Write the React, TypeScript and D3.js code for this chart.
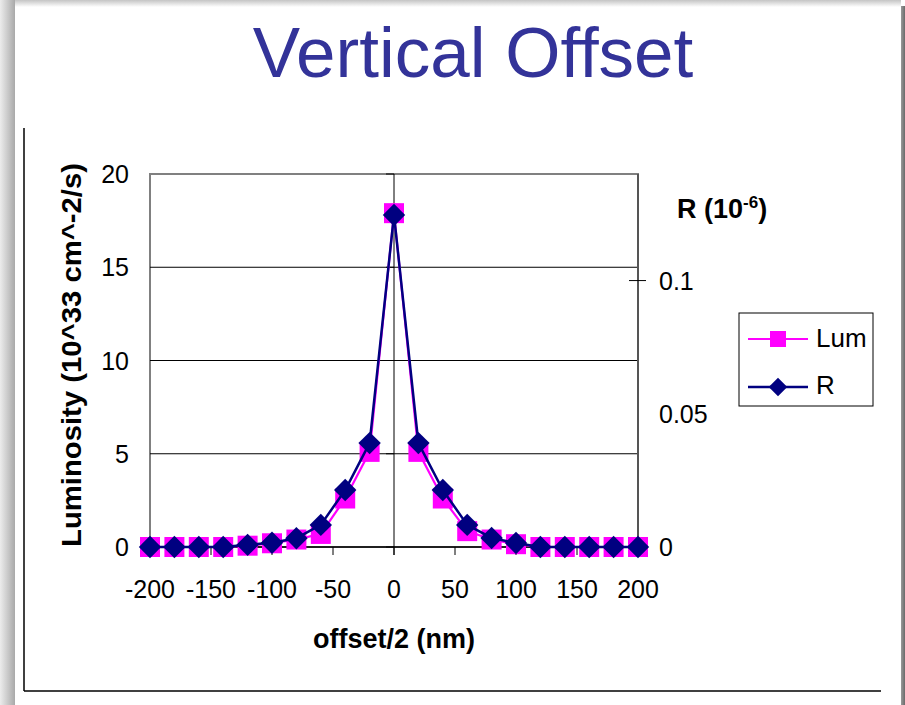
import React from 'react';
import * as d3 from 'd3';

const offsets = [-200, -180, -160, -140, -120, -100, -80, -60, -40, -20, 0, 20, 40, 60, 80, 100, 120, 140, 160, 180, 200];
const lum = [0, 0, 0, 0, 0.07, 0.2, 0.4, 0.7, 2.6, 5.1, 17.9, 5.1, 2.6, 0.85, 0.4, 0.15, 0, 0, 0, 0, 0];
const rVals = [0, 0, 0, 0, 0.0008, 0.0016, 0.0033, 0.0083, 0.0214, 0.039, 0.1246, 0.039, 0.0214, 0.0083, 0.0034, 0.0015, 0, 0, 0, 0, 0];
const xTicks = [-200, -150, -100, -50, 0, 50, 100, 150, 200];
const leftTicks = [0, 5, 10, 15, 20];
const gridTicks = [5, 10, 15];
const rightTicks = [0, 0.05, 0.1];

const W = 905;
const H = 705;
const font = 'Liberation Sans, Arial, sans-serif';
const PINK = '#ff00ff';
const NAVY = '#000080';

const App = () => {
  const x = d3.scaleLinear().domain([-200, 200]).range([150, 638]);
  const yL = d3.scaleLinear().domain([0, 20]).range([547, 174]);
  const yR = d3.scaleLinear().domain([0, 0.14]).range([547, 174]);

  const lumLine = d3.line<number>()
    .x((_, i) => x(offsets[i]))
    .y(d => yL(d));
  const rLine = d3.line<number>()
    .x((_, i) => x(offsets[i]))
    .y(d => yR(d));

  const square = d3.symbol().type(d3.symbolSquare).size(400)()!;
  const diamond = d3.symbol().type(d3.symbolDiamond2).size(320)()!;
  const legSquare = d3.symbol().type(d3.symbolSquare).size(256)()!;
  const legDiamond = d3.symbol().type(d3.symbolDiamond2).size(220)()!;

  return (
    <svg width={W} height={H} style={{ position: 'absolute', left: 0, top: 0 }} fontFamily={font}>
      <defs>
        <linearGradient id="shL" x1="0" x2="1" y1="0" y2="0">
          <stop offset="0" stopColor="#ececec" />
          <stop offset="1" stopColor="#a9a9a9" />
        </linearGradient>
        <linearGradient id="shT" x1="0" x2="0" y1="0" y2="1">
          <stop offset="0" stopColor="#c4c4c4" />
          <stop offset="1" stopColor="#ffffff" />
        </linearGradient>
        <linearGradient id="shR" x1="0" x2="1" y1="0" y2="0">
          <stop offset="0" stopColor="#9a9a9a" />
          <stop offset="1" stopColor="#6a6a6a" />
        </linearGradient>
      </defs>
      <rect x={0} y={0} width={W} height={H} fill="#fff" />
      <rect x={0} y={0} width={15} height={H} fill="url(#shL)" />
      <rect x={15} y={0} width={886} height={7} fill="url(#shT)" />
      <rect x={901} y={6} width={4} height={H} fill="url(#shR)" />

      {/* chart frame, left and bottom sides */}
      <line x1={24} x2={24} y1={128} y2={691} stroke="#000" strokeWidth={1.5} />
      <line x1={24} x2={881} y1={691} y2={691} stroke="#000" strokeWidth={1.5} />

      <text x={473} y={77} textAnchor="middle" fontSize={71} fill="#333399">Vertical Offset</text>

      {/* plot area */}
      <rect x={150} y={174} width={488} height={373} fill="#fff" stroke="#808080" strokeWidth={2} />
      {gridTicks.map(t => (
        <line key={t} x1={150} x2={637} y1={yL(t)} y2={yL(t)} stroke="#000" strokeWidth={1} />
      ))}

      {/* primary y axis crossing at x = 0 */}
      <line x1={x(0)} x2={x(0)} y1={174} y2={555} stroke="#000" strokeWidth={1} />
      {leftTicks.map(t => (
        <line key={t} x1={x(0) - 8} x2={x(0)} y1={yL(t)} y2={yL(t)} stroke="#000" strokeWidth={1} />
      ))}
      {leftTicks.map(t => (
        <text key={t} x={129} y={yL(t) + 9} textAnchor="end" fontSize={25}>{t}</text>
      ))}

      {/* x axis */}
      <line x1={150} x2={638} y1={547} y2={547} stroke="#000" strokeWidth={1.5} />
      {xTicks.map(t => (
        <line key={t} x1={x(t)} x2={x(t)} y1={547} y2={555} stroke="#000" strokeWidth={1} />
      ))}
      {xTicks.map(t => (
        <text key={t} x={x(t)} y={598} textAnchor="middle" fontSize={25}>{t}</text>
      ))}
      <text x={394} y={648} textAnchor="middle" fontSize={27} fontWeight="bold">offset/2 (nm)</text>
      <text
        transform="translate(81,355) rotate(-90)"
        textAnchor="middle"
        fontSize={28}
        fontWeight="bold"
        textLength={384}
        lengthAdjust="spacingAndGlyphs"
      >
        Luminosity (10^33 cm^-2/s)
      </text>

      {/* secondary y axis */}
      <line x1={638} x2={638} y1={174} y2={547} stroke="#555" strokeWidth={2} />
      {rightTicks.filter(t => t === 0.1).map(t => (
        <line key={t} x1={629} x2={646} y1={yR(t)} y2={yR(t)} stroke="#000" strokeWidth={1} />
      ))}
      {rightTicks.map(t => (
        <text key={t} x={659} y={yR(t) + 9} fontSize={25}>{t}</text>
      ))}
      <text x={677} y={218} fontSize={27} fontWeight="bold">
        R (10<tspan fontSize={17} dy={-10}>-6</tspan><tspan dy={10}>)</tspan>
      </text>

      {/* series */}
      <path d={lumLine(lum)!} fill="none" stroke={PINK} strokeWidth={2.2} />
      {lum.map((v, i) => (
        <path key={i} d={square} transform={`translate(${x(offsets[i])},${yL(v)})`} fill={PINK} />
      ))}
      <path d={rLine(rVals)!} fill="none" stroke={NAVY} strokeWidth={2.5} />
      {rVals.map((v, i) => (
        <path key={i} d={diamond} transform={`translate(${x(offsets[i])},${yR(v)})`} fill={NAVY} />
      ))}

      {/* legend */}
      <rect x={739} y={313} width={134} height={93} fill="#fff" stroke="#000" strokeWidth={1} />
      <line x1={748} x2={808} y1={339} y2={339} stroke={PINK} strokeWidth={2.2} />
      <path d={legSquare} transform="translate(778,339)" fill={PINK} />
      <text x={816} y={347} fontSize={26}>Lum</text>
      <line x1={748} x2={808} y1={387} y2={387} stroke={NAVY} strokeWidth={2.5} />
      <path d={legDiamond} transform="translate(778,387)" fill={NAVY} />
      <text x={816} y={394} fontSize={26}>R</text>
    </svg>
  );
};

export default App;
